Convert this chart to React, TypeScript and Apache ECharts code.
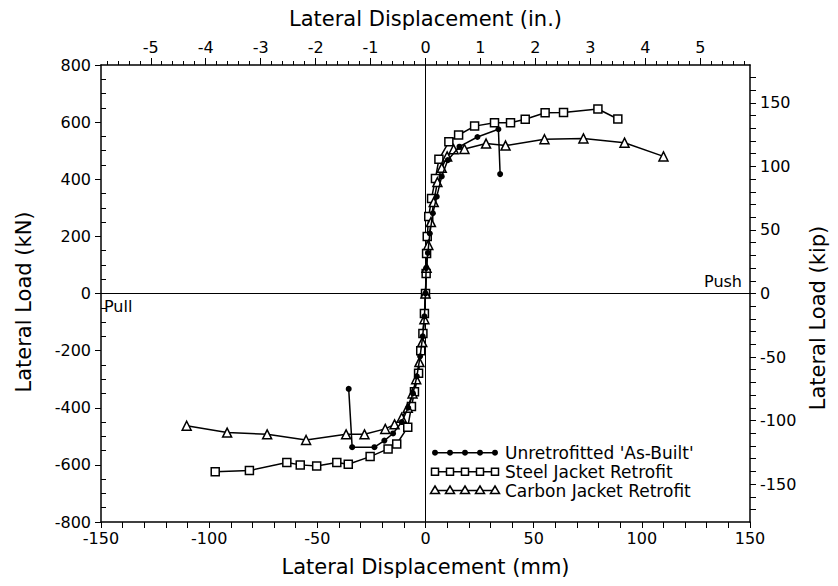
import React, { useEffect, useRef } from "react";
import * as echarts from "echarts";

const MM_PER_IN = 25.4;
const KN_PER_KIP = 4.4482;

// Unretrofitted 'As-Built' (filled circles)
const asBuiltPullDisp = [0, -0.5, -1.3, -2.5, -4, -5.8, -8, -11, -15, -19, -23.6, -33.9, -35.5];
const asBuiltPullLoad = [0, -80, -150, -220, -290, -350, -400, -450, -490, -515, -538, -538, -334];
const asBuiltPushDisp = [0, 0.3, 1.1, 2, 3.4, 5.2, 7.5, 10.3, 15.7, 24, 33.7, 34.5];
const asBuiltPushLoad = [0, 89, 142, 210, 281, 339, 410, 467, 514, 548, 575, 418];

// Steel Jacket Retrofit (open squares)
const steelPullDisp = [0, -0.5, -1.2, -2.2, -3.2, -5.1, -6.5, -8.2, -13.3, -17.3, -25.6, -35.7, -41, -50.3, -57.9, -64.1, -81.4, -97.2];
const steelPullLoad = [0, -70, -140, -200, -279, -344, -396, -468, -527, -544, -571, -598, -592, -604, -600, -592, -620, -624];
const steelPushDisp = [0, 0.3, 0.5, 0.8, 1.5, 2.8, 4.6, 6.2, 10.8, 15.3, 22.7, 31.9, 39.3, 46.1, 55.3, 63.8, 79.7, 88.9];
const steelPushLoad = [0, 70, 140, 200, 270, 333, 403, 470, 531, 555, 586, 598, 598, 610, 633, 634, 646, 611];

// Carbon Jacket Retrofit (open triangles)
const carbonPullDisp = [0, -0.5, -1.5, -2.8, -4.3, -6, -8.2, -11, -14.3, -18.6, -28.2, -36.7, -55.2, -73.2, -91.7, -110.4];
const carbonPullLoad = [0, -90, -170, -240, -300, -350, -400, -435, -458, -474, -493, -493, -513, -493, -487, -463];
const carbonPushDisp = [0, 0.5, 1.3, 2.5, 3.8, 5.5, 7.5, 10, 13, 18, 28, 37, 55, 73, 92, 110];
const carbonPushLoad = [0, 90, 170, 250, 320, 390, 440, 480, 505, 506, 525, 518, 540, 543, 528, 480];

const seriesNames = ["Unretrofitted 'As-Built'", "Steel Jacket Retrofit", "Carbon Jacket Retrofit"];

// Axis ticks
const mmLabels = [-150, -100, -50, 0, 50, 100, 150];
const mmTicks = [-150, -140, -130, -120, -110, -100, -90, -80, -70, -60, -50, -40, -30, -20, -10, 0, 10, 20, 30, 40, 50, 60, 70, 80, 90, 100, 110, 120, 130, 140, 150];
const inchLabels = [-5, -4, -3, -2, -1, 0, 1, 2, 3, 4, 5];
const kNLabels = [-800, -600, -400, -200, 0, 200, 400, 600, 800];
const kNMinor = [-750, -700, -650, -550, -500, -450, -350, -300, -250, -150, -100, -50, 50, 100, 150, 250, 300, 350, 450, 500, 550, 650, 700, 750];
const kipLabels = [-150, -100, -50, 0, 50, 100, 150];

const inchMinor: number[] = [];
for (let i = -29; i <= 29; i++) inchMinor.push(i / 5);
const kipMinor: number[] = [];
for (let i = -17; i <= 17; i++) kipMinor.push(i * 10);

const FONT = "DejaVu Sans";

function branch(pullX: number[], pullY: number[], pushX: number[], pushY: number[]) {
  const out: number[][] = [];
  for (let i = pullX.length - 1; i >= 1; i--) out.push([pullX[i], pullY[i]]);
  for (let i = 0; i < pushX.length; i++) out.push([pushX[i], pushY[i]]);
  return out;
}

export default function App() {
  const ref = useRef<HTMLDivElement>(null);

  useEffect(() => {
    document.body.style.margin = "0";
    if (!ref.current) return;
    const chart = echarts.init(ref.current, undefined, { renderer: "svg" });

    const axisLineStyle = { color: "#000", width: 1.5 };
    const labelStyle = { color: "#000", fontSize: 16, fontFamily: FONT };

    const legendRows = [452.7, 471.7, 490.5];
    const legendX0 = 435;
    const legendGraphics: any[] = [];
    legendRows.forEach((y, idx) => {
      legendGraphics.push({
        type: "line",
        shape: { x1: legendX0, y1: y, x2: legendX0 + 60, y2: y },
        style: { stroke: "#000", lineWidth: 1.5 },
      });
      for (let k = 0; k < 5; k++) {
        const cx = legendX0 + k * 15;
        if (idx === 0) {
          legendGraphics.push({ type: "circle", shape: { cx, cy: y, r: 3 }, style: { fill: "#000" } });
        } else if (idx === 1) {
          legendGraphics.push({
            type: "rect",
            shape: { x: cx - 3.5, y: y - 3.5, width: 7, height: 7 },
            style: { fill: "#fff", stroke: "#000", lineWidth: 1.5 },
          });
        } else {
          legendGraphics.push({
            type: "polygon",
            shape: { points: [[cx, y - 4.5], [cx + 4.5, y + 3], [cx - 4.5, y + 3]] },
            style: { fill: "#fff", stroke: "#000", lineWidth: 1.5 },
          });
        }
      }
      legendGraphics.push({
        type: "text",
        x: legendX0 + 70,
        y,
        style: {
          text: seriesNames[idx],
          fontSize: 17,
          lineHeight: 17,
          fontFamily: FONT,
          fill: "#000",
          align: "left",
          verticalAlign: "middle",
          textAlign: "left",
          textVerticalAlign: "middle",
        },
      });
    });

    const option: any = {
      animation: false,
      backgroundColor: "#fff",
      grid: { left: 101, right: 88, top: 65, bottom: 64, containLabel: false },
      xAxis: [
        {
          type: "value",
          position: "bottom",
          min: -150,
          max: 150,
          interval: 50,
          axisLine: { show: true, onZero: false, lineStyle: axisLineStyle },
          axisTick: { show: true, customValues: mmTicks, length: 6, lineStyle: { color: "#000", width: 1 } },
          axisLabel: { ...labelStyle, customValues: mmLabels, margin: 8 },
          splitLine: { show: false },
          name: "Lateral Displacement (mm)",
          nameLocation: "middle",
          nameGap: 34,
          nameTextStyle: { color: "#000", fontSize: 21, fontFamily: FONT },
        },
        {
          type: "value",
          position: "top",
          min: -150,
          max: 150,
          interval: 50,
          axisLine: { show: true, onZero: false, lineStyle: axisLineStyle },
          axisTick: { show: true, customValues: inchMinor.map((v) => v * MM_PER_IN), length: 4, lineStyle: { color: "#000", width: 1 } },
          axisLabel: { show: false },
          splitLine: { show: false },
        },
        {
          type: "value",
          position: "top",
          min: -150,
          max: 150,
          interval: 50,
          axisLine: { show: false, onZero: false },
          axisTick: { show: true, customValues: inchLabels.map((v) => v * MM_PER_IN), length: 7, lineStyle: { color: "#000", width: 1 } },
          axisLabel: {
            ...labelStyle,
            customValues: inchLabels.map((v) => v * MM_PER_IN),
            margin: 10,
            formatter: (v: number) => String(Math.round(v / MM_PER_IN)),
          },
          splitLine: { show: false },
          name: "Lateral Displacement (in.)",
          nameLocation: "middle",
          nameGap: 36,
          nameTextStyle: { color: "#000", fontSize: 21, fontFamily: FONT },
        },
      ],
      yAxis: [
        {
          type: "value",
          position: "left",
          min: -800,
          max: 800,
          interval: 200,
          axisLine: { show: true, onZero: false, lineStyle: axisLineStyle },
          axisTick: { show: true, customValues: kNLabels, length: 6, lineStyle: { color: "#000", width: 1 } },
          axisLabel: { ...labelStyle, customValues: kNLabels, margin: 10 },
          splitLine: { show: false },
        },
        {
          type: "value",
          position: "left",
          min: -800,
          max: 800,
          interval: 200,
          axisLine: { show: false, onZero: false },
          axisTick: { show: true, inside: true, customValues: kNMinor, length: 5, lineStyle: { color: "#000", width: 1 } },
          axisLabel: { show: false },
          splitLine: { show: false },
        },
        {
          type: "value",
          position: "right",
          min: -800,
          max: 800,
          interval: 200,
          axisLine: { show: true, onZero: false, lineStyle: axisLineStyle },
          axisTick: { show: true, customValues: kipMinor.map((v) => v * KN_PER_KIP), length: 6, lineStyle: { color: "#000", width: 1 } },
          axisLabel: {
            ...labelStyle,
            customValues: kipLabels.map((v) => v * KN_PER_KIP),
            margin: 10,
            formatter: (v: number) => String(Math.round(v / KN_PER_KIP)),
          },
          splitLine: { show: false },
        },
      ],
      series: [
        {
          name: seriesNames[0],
          type: "line",
          xAxisIndex: 0,
          yAxisIndex: 0,
          data: branch(asBuiltPullDisp, asBuiltPullLoad, asBuiltPushDisp, asBuiltPushLoad),
          symbol: "circle",
          symbolSize: 6,
          itemStyle: { color: "#000" },
          lineStyle: { color: "#000", width: 1.5 },
          z: 4,
          markLine: {
            silent: true,
            symbol: ["none", "none"],
            label: { show: false },
            lineStyle: { color: "#000", width: 1, type: "solid" },
            data: [{ xAxis: 0 }, { yAxis: 0 }],
            z: 1,
          },
        },
        {
          name: seriesNames[1],
          type: "line",
          xAxisIndex: 0,
          yAxisIndex: 0,
          data: branch(steelPullDisp, steelPullLoad, steelPushDisp, steelPushLoad),
          symbol: "rect",
          symbolSize: 8,
          showAllSymbol: true,
          itemStyle: { color: "#fff", borderColor: "#000", borderWidth: 1.5 },
          lineStyle: { color: "#000", width: 1.5 },
          z: 3,
        },
        {
          name: seriesNames[2],
          type: "line",
          xAxisIndex: 0,
          yAxisIndex: 0,
          data: branch(carbonPullDisp, carbonPullLoad, carbonPushDisp, carbonPushLoad),
          symbol: "triangle",
          symbolSize: 9,
          showAllSymbol: true,
          itemStyle: { color: "#fff", borderColor: "#000", borderWidth: 1.5 },
          lineStyle: { color: "#000", width: 1.5 },
          z: 3,
        },
      ],
      graphic: [
        {
          type: "text",
          x: 24,
          y: 302,
          rotation: Math.PI / 2,
          style: {
            text: "Lateral Load (kN)",
            fontSize: 21,
            fontFamily: FONT,
            fill: "#000",
            align: "center",
            verticalAlign: "middle",
            textAlign: "center",
            textVerticalAlign: "middle",
          },
        },
        {
          type: "text",
          x: 818,
          y: 318,
          rotation: Math.PI / 2,
          style: {
            text: "Lateral Load (kip)",
            fontSize: 21,
            fontFamily: FONT,
            fill: "#000",
            align: "center",
            verticalAlign: "middle",
            textAlign: "center",
            textVerticalAlign: "middle",
          },
        },
        {
          type: "text",
          x: 742,
          y: 289,
          style: {
            text: "Push",
            fontSize: 16,
            fontFamily: FONT,
            fill: "#000",
            align: "right",
            verticalAlign: "bottom",
            textAlign: "right",
            textVerticalAlign: "bottom",
          },
        },
        {
          type: "text",
          x: 104,
          y: 298,
          style: {
            text: "Pull",
            fontSize: 16,
            fontFamily: FONT,
            fill: "#000",
            align: "left",
            verticalAlign: "top",
            textAlign: "left",
            textVerticalAlign: "top",
          },
        },
        ...legendGraphics,
      ],
    };

    chart.setOption(option);
    return () => {
      chart.dispose();
    };
  }, []);

  return <div ref={ref} style={{ width: 838, height: 586 }} />;
}
